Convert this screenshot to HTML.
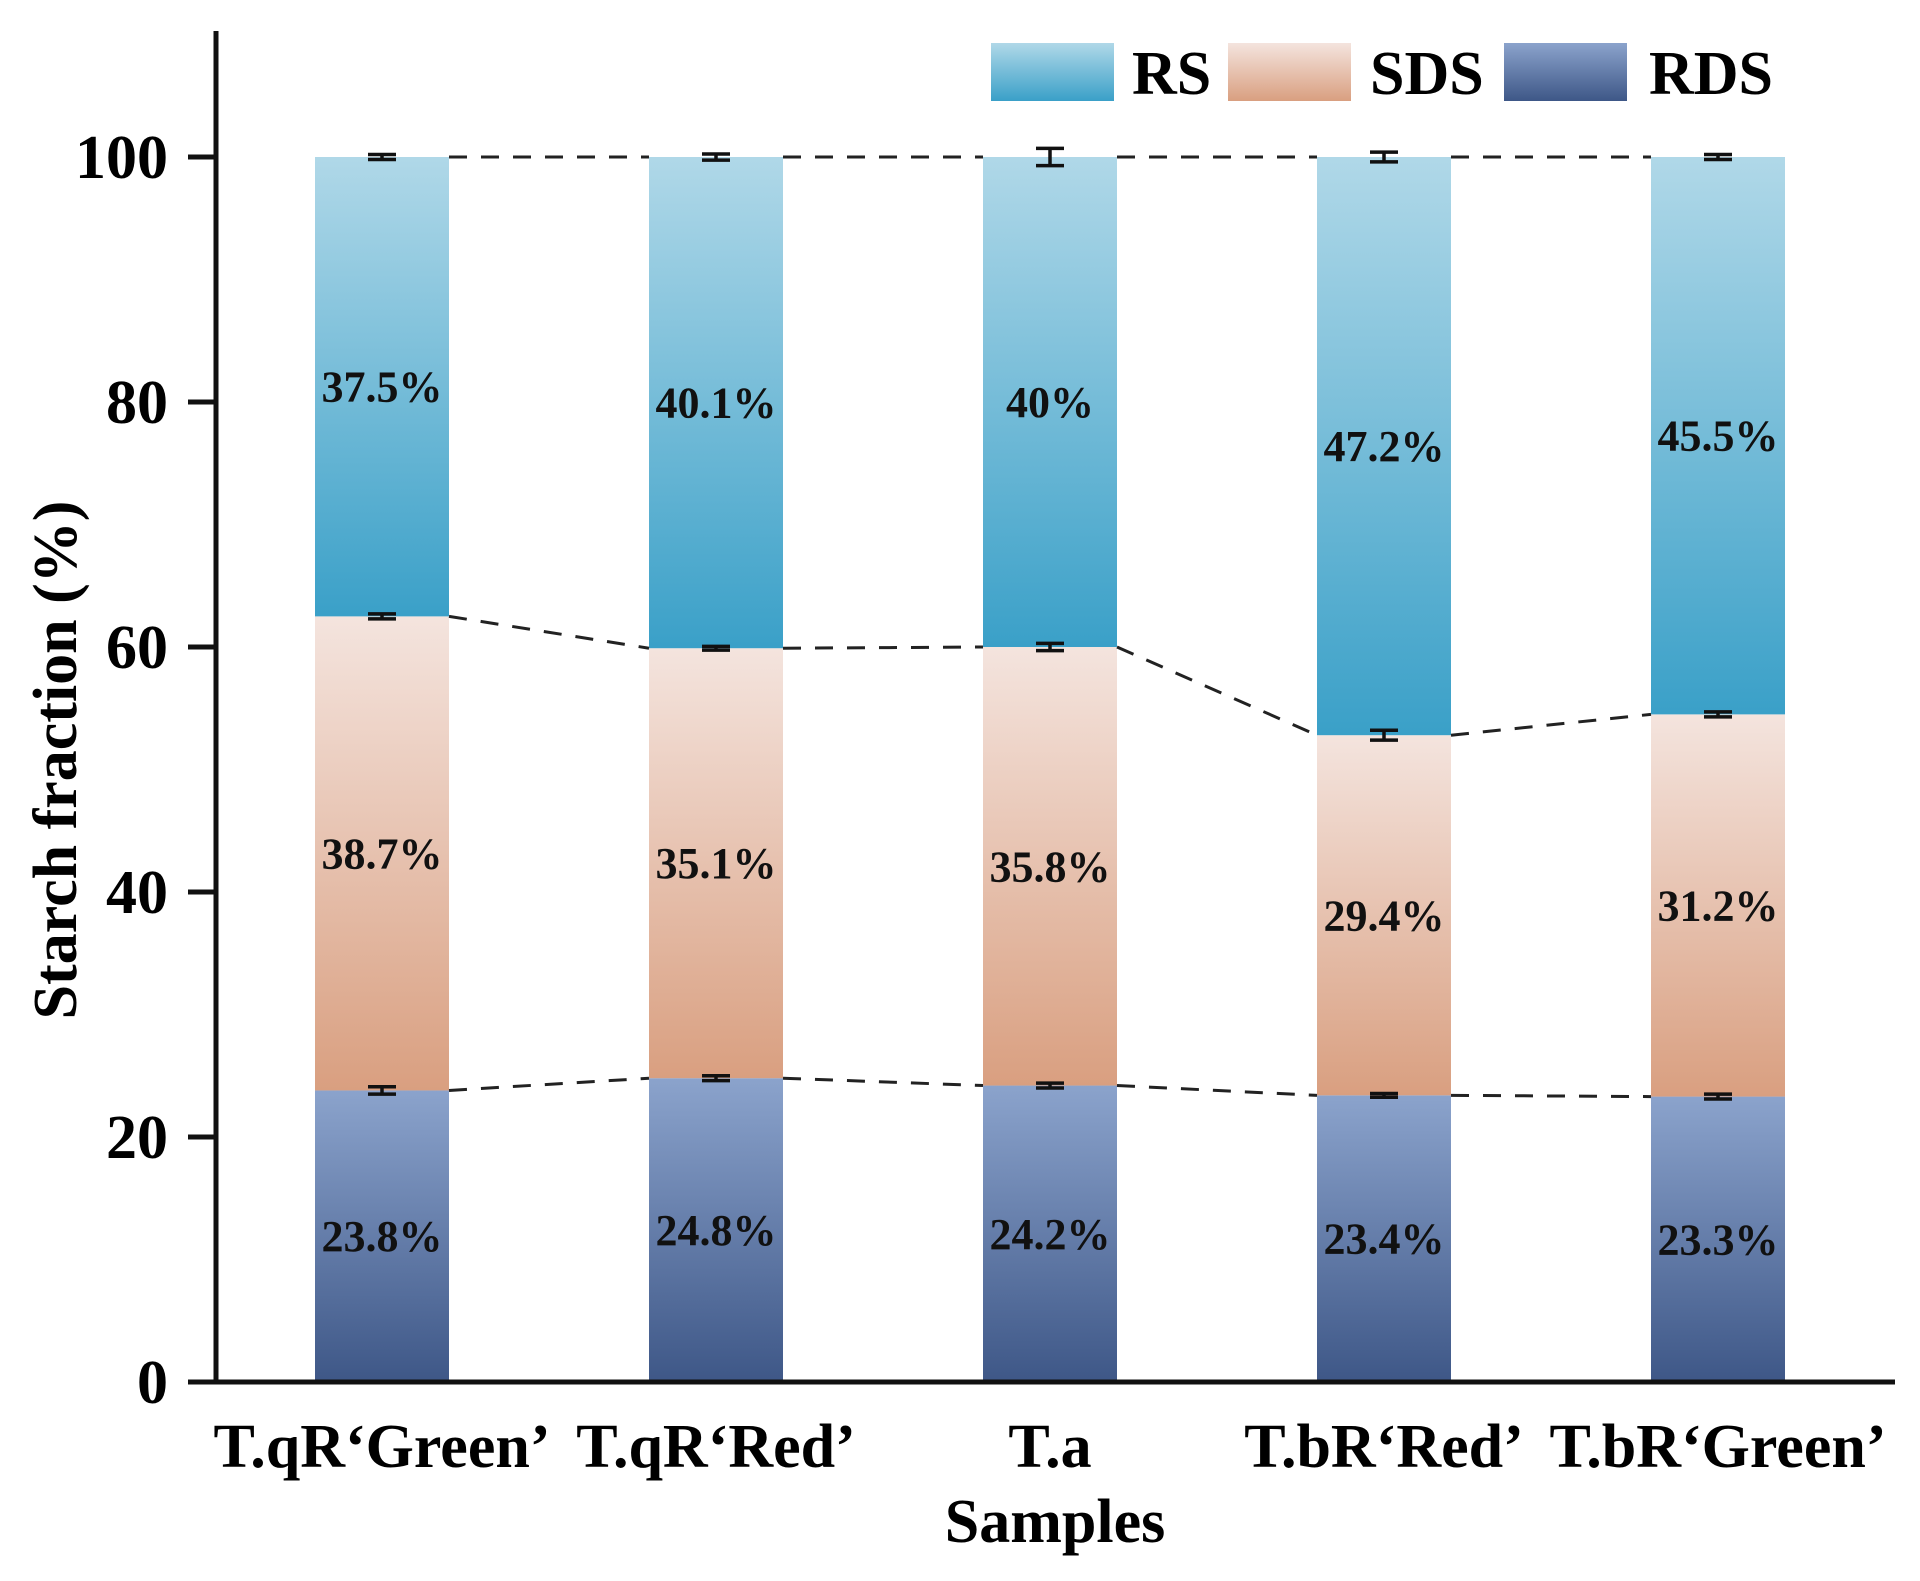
<!DOCTYPE html>
<html><head><meta charset="utf-8">
<style>
html,body{margin:0;padding:0;background:#fff;}
svg{display:block;font-family:"Liberation Serif",serif;font-weight:bold;}
</style></head>
<body>
<svg id="chart" width="1920" height="1581" viewBox="0 0 1920 1581">
<defs>
<linearGradient id="gRS" x1="0" y1="0" x2="0" y2="1"><stop offset="0" stop-color="#b0d8e8"/><stop offset="1" stop-color="#3aa0c8"/></linearGradient>
<linearGradient id="gSDS" x1="0" y1="0" x2="0" y2="1"><stop offset="0" stop-color="#f4e4de"/><stop offset="1" stop-color="#d99f80"/></linearGradient>
<linearGradient id="gRDS" x1="0" y1="0" x2="0" y2="1"><stop offset="0" stop-color="#8ba3cc"/><stop offset="1" stop-color="#3e5787"/></linearGradient>
</defs>
<g id="marks"></g>
<g id="axes"></g>
</svg>
<script>
const categories = ["T.qR‘Green’", "T.qR‘Red’", "T.a", "T.bR‘Red’", "T.bR‘Green’"];
const rdsValues = [23.8, 24.8, 24.2, 23.4, 23.3];
const sdsValues = [38.7, 35.1, 35.8, 29.4, 31.2];
const rsValues = [37.5, 40.1, 40, 47.2, 45.5];
const rdsErr = [0.3, 0.2, 0.2, 0.15, 0.2];
const sdsErr = [0.2, 0.15, 0.3, 0.4, 0.2];
const rsErr = [0.2, 0.25, 0.7, 0.4, 0.2];
const rdsLabels = ["23.8%", "24.8%", "24.2%", "23.4%", "23.3%"];
const sdsLabels = ["38.7%", "35.1%", "35.8%", "29.4%", "31.2%"];
const rsLabels = ["37.5%", "40.1%", "40%", "47.2%", "45.5%"];
const yTicks = [0, 20, 40, 60, 80, 100];

const NS = "http://www.w3.org/2000/svg";
const y0 = 1382, pxPerUnit = 12.25;
const yScale = v => y0 - v * pxPerUnit;
const firstX = 382, stepX = 334, barW = 134;
const xScale = i => firstX + i * stepX;

function mk(tag, attrs, parent, text) {
  const e = document.createElementNS(NS, tag);
  for (const k in attrs) e.setAttribute(k, attrs[k]);
  if (text !== undefined) e.textContent = text;
  parent.appendChild(e);
  return e;
}
const marks = document.getElementById("marks");
const axes = document.getElementById("axes");

const series = [
  {name: "rds", vals: rdsValues, err: rdsErr, labels: rdsLabels, fill: "url(#gRDS)"},
  {name: "sds", vals: sdsValues, err: sdsErr, labels: sdsLabels, fill: "url(#gSDS)"},
  {name: "rs", vals: rsValues, err: rsErr, labels: rsLabels, fill: "url(#gRS)"}
];

const tops = [];
categories.forEach((c, i) => {
  let base = 0;
  const t = [];
  series.forEach(s => {
    const v = s.vals[i];
    const r = mk("rect", {x: xScale(i) - barW / 2, y: yScale(base + v), width: barW, height: yScale(base) - yScale(base + v), fill: s.fill}, marks);
    
    
    const tx = mk("text", {x: xScale(i), y: yScale(base + v / 2) + 15, "text-anchor": "middle", "font-size": "44", fill: "#111"}, marks, s.labels[i]);
    
    
    base += v;
    t.push({v: base, e: s.err[i]});
  });
  tops.push(t);
});

for (let k = 0; k < 3; k++) {
  for (let i = 0; i < categories.length - 1; i++) {
    const l = mk("line", {x1: xScale(i) + barW / 2, y1: yScale(tops[i][k].v), x2: xScale(i + 1) - barW / 2, y2: yScale(tops[i + 1][k].v), stroke: "#222", "stroke-width": 3, "stroke-dasharray": "18 14"}, marks);
    
    
  }
}
tops.forEach((t, i) => {
  t.forEach((o, k) => {
    const g = mk("g", {stroke: "#111", "stroke-width": 3.5}, marks);
    
    
    const x = xScale(i);
    mk("line", {x1: x, x2: x, y1: yScale(o.v + o.e), y2: yScale(o.v - o.e)}, g);
    mk("line", {x1: x - 14, x2: x + 14, y1: yScale(o.v + o.e), y2: yScale(o.v + o.e)}, g);
    mk("line", {x1: x - 14, x2: x + 14, y1: yScale(o.v - o.e), y2: yScale(o.v - o.e)}, g);
  });
});

let a = mk("line", {x1: 216, y1: 31, x2: 216, y2: 1384, stroke: "#111", "stroke-width": 5}, axes);


a = mk("line", {x1: 188, y1: 1382, x2: 1895, y2: 1382, stroke: "#111", "stroke-width": 5}, axes);


yTicks.forEach(v => {
  const tk = mk("line", {x1: 188, x2: 216, y1: yScale(v), y2: yScale(v), stroke: "#111", "stroke-width": 5}, axes);
  
  
  const tl = mk("text", {x: 168, y: yScale(v) + 21, "text-anchor": "end", "font-size": "62", fill: "#000"}, axes, String(v));
  
  
});
categories.forEach((c, i) => {
  const tl = mk("text", {x: xScale(i), y: 1467, "text-anchor": "middle", "font-size": "62", fill: "#000"}, axes, c);
  
  
});
a = mk("text", {x: 1055, y: 1542, "text-anchor": "middle", "font-size": "62", fill: "#000"}, axes, "Samples");


a = mk("text", {x: 0, y: 0, "text-anchor": "middle", "font-size": "62", fill: "#000", transform: "translate(76,760) rotate(-90)"}, axes, "Starch fraction (%)");



const legendItems = [
  {label: "RS", fill: "url(#gRS)", x: 991, tx: 1132},
  {label: "SDS", fill: "url(#gSDS)", x: 1228, tx: 1370},
  {label: "RDS", fill: "url(#gRDS)", x: 1504, tx: 1649}
];
legendItems.forEach(it => {
  const g = mk("g", {}, axes);
  
  
  mk("rect", {x: it.x, y: 43, width: 123, height: 58, fill: it.fill}, g);
  mk("text", {x: it.tx, y: 94, "font-size": "62", fill: "#000"}, g, it.label);
});
</script>
</body></html>
